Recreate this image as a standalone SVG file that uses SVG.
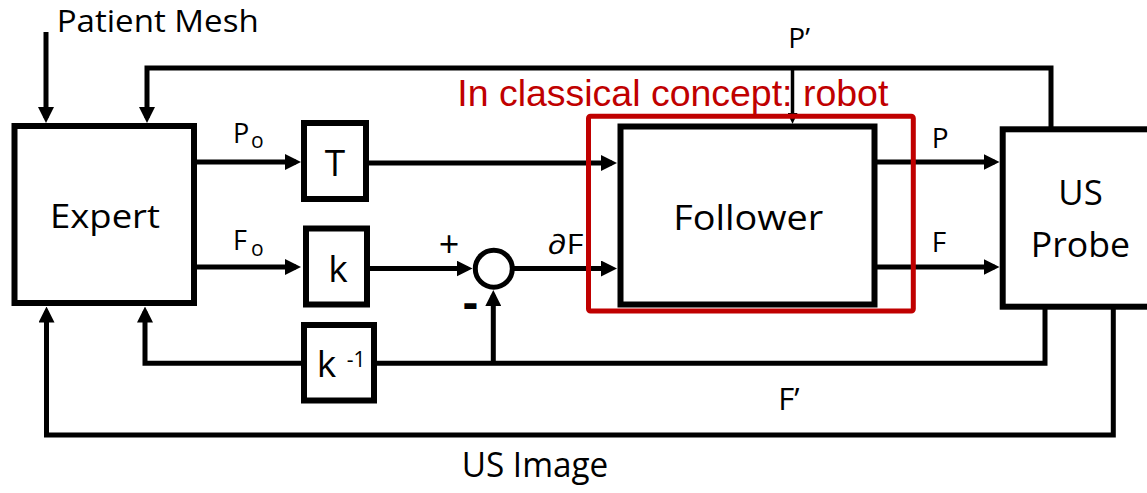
<svg xmlns="http://www.w3.org/2000/svg" width="1147" height="493" viewBox="0 0 1147 493">
<style>
.box{fill:#fff;stroke:#000;stroke-width:6;stroke-linejoin:miter}
.wire{fill:none;stroke:#000;stroke-width:5;stroke-linejoin:miter;stroke-linecap:butt}
.lbl{font-family:"Open Sans","Liberation Sans",sans-serif;fill:#000}
.red{font-family:"Liberation Sans",Arial,sans-serif;fill:#C00000}
</style>
<defs>
<marker id="ah" markerUnits="userSpaceOnUse" markerWidth="16" markerHeight="16" viewBox="0 0 16 16" refX="11" refY="8" orient="auto"><path d="M0,0 L16,8 L0,16 z" fill="#000"/></marker>
<marker id="ahs" markerUnits="userSpaceOnUse" markerWidth="11" markerHeight="10" viewBox="0 0 11 10" refX="7" refY="5" orient="auto"><path d="M0,0 L11,5 L0,10 z" fill="#000"/></marker>
</defs>
<rect width="1147" height="493" fill="#fff"/>

<g id="connectors">
<path class="wire" d="M46,32 V118" marker-end="url(#ah)"/>
<path class="wire" d="M1051,129 V68 H147 V118" marker-end="url(#ah)"/>
<path class="wire" style="stroke-width:3.5" d="M792.5,68 V120" marker-end="url(#ahs)"/>
<path class="wire" d="M194,162 H296" marker-end="url(#ah)"/>
<path class="wire" d="M366,163 H612" marker-end="url(#ah)"/>
<path class="wire" d="M194,267 H296" marker-end="url(#ah)"/>
<path class="wire" d="M367,268.5 H467.5" marker-end="url(#ah)"/>
<path class="wire" d="M512,268.5 H612" marker-end="url(#ah)"/>
<path class="wire" d="M874.5,162 H994.5" marker-end="url(#ah)"/>
<path class="wire" d="M874.5,267 H994.5" marker-end="url(#ah)"/>
<path class="wire" d="M1045,307 V363.3 H374"/>
<path class="wire" d="M304,363.3 H145 V311.5" marker-end="url(#ah)"/>
<path class="wire" d="M493.3,363.3 V295" marker-end="url(#ah)"/>
<path class="wire" d="M1113.3,307 V435 H46.5 V311.5" marker-end="url(#ah)"/>
</g>

<g id="expert">
<rect class="box" x="14.5" y="126" width="179.5" height="177"/>
<text class="lbl" x="50" y="228" font-size="33" textLength="110" lengthAdjust="spacingAndGlyphs">Expert</text>
</g>
<g id="block-T">
<rect class="box" x="304" y="123" width="62" height="76"/>
<text class="lbl" x="335" y="176" font-size="37" text-anchor="middle">T</text>
</g>
<g id="block-k">
<rect class="box" x="306" y="228.5" width="61" height="76"/>
<text class="lbl" x="338" y="281.7" font-size="37" text-anchor="middle">k</text>
</g>
<g id="block-kinv">
<rect class="box" x="304" y="325" width="70" height="75.5"/>
<text class="lbl" x="316.7" y="376.7" font-size="37">k</text>
<text class="lbl" x="346.7" y="366.5" font-size="21">-1</text>
</g>
<g id="sum">
<circle cx="493.8" cy="268.7" r="18.5" fill="#fff" stroke="#000" stroke-width="5"/>
<text class="lbl" x="449" y="257" font-size="36" text-anchor="middle">+</text>
<text class="lbl" x="470.5" y="319" font-size="46" font-weight="bold" text-anchor="middle">-</text>
</g>
<g id="follower">
<rect class="box" x="620.5" y="126.5" width="254" height="178"/>
<text class="lbl" x="673.3" y="230" font-size="35" textLength="150" lengthAdjust="spacingAndGlyphs">Follower</text>
</g>
<g id="us-probe">
<rect class="box" x="1002.7" y="129.3" width="200" height="177.4"/>
<text class="lbl" x="1058.3" y="205" font-size="35" textLength="44.4" lengthAdjust="spacingAndGlyphs">US</text>
<text class="lbl" x="1030.7" y="256.7" font-size="35" textLength="99.3" lengthAdjust="spacingAndGlyphs">Probe</text>
</g>

<g id="robot-frame">
<rect x="588.5" y="116.3" width="324.8" height="194.7" rx="2" fill="none" stroke="#C00000" stroke-width="5"/>
<text class="red" x="457.3" y="106" font-size="37" textLength="431" lengthAdjust="spacingAndGlyphs">In classical concept: robot</text>
</g>

<g id="labels">
<text class="lbl" x="56.7" y="32.3" font-size="31" textLength="202" lengthAdjust="spacingAndGlyphs">Patient Mesh</text>
<text class="lbl" x="233" y="142.7" font-size="27">P</text>
<text class="lbl" x="251" y="148.3" font-size="21">o</text>
<text class="lbl" x="233" y="250" font-size="27">F</text>
<text class="lbl" x="251" y="256" font-size="21">o</text>
<text class="lbl" x="547.5" y="254" font-size="28" textLength="36" lengthAdjust="spacingAndGlyphs">∂F</text>
<text class="lbl" x="931.7" y="148.3" font-size="28">P</text>
<text class="lbl" x="931.7" y="251.7" font-size="28">F</text>
<text class="lbl" x="788.3" y="48.3" font-size="28">P’</text>
<text class="lbl" x="778.3" y="410" font-size="31">F’</text>
<text class="lbl" x="461.7" y="476.7" font-size="34" textLength="146.6" lengthAdjust="spacingAndGlyphs">US Image</text>
</g>
</svg>
